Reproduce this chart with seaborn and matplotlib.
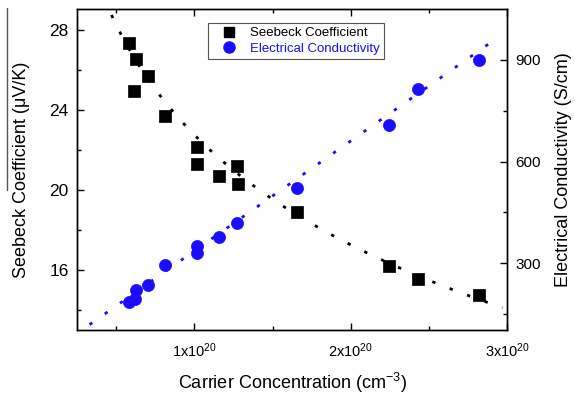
import numpy as np
import pandas as pd
import matplotlib
matplotlib.use("Agg")
import matplotlib.pyplot as plt
from matplotlib.lines import Line2D
from matplotlib.ticker import MultipleLocator, FixedLocator
import seaborn as sns

# Measured samples: carrier concentration (units of 1e20 cm^-3)
carrier_seebeck = [0.579, 0.628, 0.701, 0.615, 0.814, 1.017, 1.017, 1.156, 1.274, 1.278, 1.654, 2.244, 2.432, 2.822]
seebeck = [27.33, 26.53, 25.70, 24.95, 23.70, 22.13, 21.30, 20.72, 21.20, 20.32, 18.90, 16.20, 15.57, 14.75]

carrier_sigma = [0.579, 0.622, 0.628, 0.701, 0.814, 1.017, 1.017, 1.156, 1.274, 1.654, 2.244, 2.432, 2.822]
conductivity = [187, 194, 222, 235, 294, 351, 329, 376, 418, 522, 708, 814, 900]

# Fitted trend parameters: S = a + b*ln(n), sigma = c + m*n
seebeck_fit = [22.76, -7.94]
sigma_fit = [11.7, 324.6]

x_ticks = [1, 2, 3]
x_tick_labels = [r"1x10$^{20}$", r"2x10$^{20}$", r"3x10$^{20}$"]

sns.set_theme(style="white")
plt.rcParams["font.family"] = ["Liberation Sans", "DejaVu Sans"]
plt.rcParams["mathtext.fontset"] = "custom"
plt.rcParams["mathtext.rm"] = "Liberation Sans"
plt.rcParams["mathtext.it"] = "Liberation Sans:italic"
for key in ("text.color", "axes.labelcolor", "xtick.color", "ytick.color"):
    plt.rcParams[key] = "black"

df_s = pd.DataFrame({"n": carrier_seebeck, "S": seebeck})
df_c = pd.DataFrame({"n": carrier_sigma, "sigma": conductivity})

fig = plt.figure(figsize=(5.75, 3.95), dpi=100)
ax = fig.add_axes([0.134, 0.1646, 0.748, 0.8124])
ax2 = ax.twinx()

blue = "#1a0dff"
dot_style = (0, (1.2, 5.5))

n_fit_s = np.linspace(0.47, 2.97, 200)
ax.plot(n_fit_s, seebeck_fit[0] + seebeck_fit[1] * np.log(n_fit_s),
        color="black", lw=2.0, ls=dot_style, zorder=2)

n_fit_c = np.linspace(0.33, 2.95, 200)
ax2.plot(n_fit_c, sigma_fit[0] + sigma_fit[1] * n_fit_c,
         color=blue, lw=2.0, ls=dot_style, zorder=2)

sns.scatterplot(data=df_s, x="n", y="S", ax=ax, marker="s", s=66, color="black",
                edgecolor="black", linewidth=0.5, zorder=3, legend=False)
sns.scatterplot(data=df_c, x="n", y="sigma", ax=ax2, marker="o", s=76, color=blue,
                edgecolor=blue, linewidth=0.5, zorder=3, legend=False)

ax.set_xlim(0.25, 3.0)
ax.set_ylim(13.0, 29.05)
ax2.set_ylim(103, 1050)

ax.xaxis.set_major_locator(FixedLocator(x_ticks))
ax.set_xticklabels(x_tick_labels)
ax.xaxis.set_minor_locator(MultipleLocator(0.5))
ax.yaxis.set_major_locator(MultipleLocator(4))
ax.yaxis.set_minor_locator(MultipleLocator(2))
ax2.yaxis.set_major_locator(FixedLocator([300, 600, 900]))
ax2.yaxis.set_minor_locator(FixedLocator([150, 450, 750]))

for a_ in (ax, ax2):
    for sp in a_.spines.values():
        sp.set_color("black")
        sp.set_linewidth(1.0)

ax.tick_params(axis="x", which="both", direction="in", top=True, bottom=True, labelsize=10.5, pad=8)
ax.tick_params(axis="x", which="major", length=5, width=1)
ax.tick_params(axis="x", which="minor", length=3, width=1)
ax.tick_params(axis="y", which="both", direction="in", left=True, right=False, labelsize=12.5, pad=6)
ax.tick_params(axis="y", which="major", length=5, width=1)
ax.tick_params(axis="y", which="minor", length=3, width=1)
ax2.tick_params(axis="y", which="both", direction="in", right=True, labelsize=11, pad=6)
ax2.tick_params(axis="y", which="major", length=5, width=1)
ax2.tick_params(axis="y", which="minor", length=3, width=1)

ax.set_xlabel(r"Carrier Concentration (cm$^{-3}$)", fontsize=13, labelpad=8)
ax.set_ylabel("Seebeck Coefficient (μV/K)", fontsize=13, labelpad=14)
ax2.set_ylabel("Electrical Conductivity (S/cm)", fontsize=13, labelpad=10)

handles = [
    Line2D([], [], marker="s", ls="none", color="black", markersize=7.5),
    Line2D([], [], marker="o", ls="none", color=blue, markersize=8),
]
leg = ax.legend(handles, ["Seebeck Coefficient", "Electrical Conductivity"],
                loc="upper left", bbox_to_anchor=(0.305, 0.956), borderaxespad=0,
                fontsize=9.5, frameon=True, fancybox=False, edgecolor="#555555",
                framealpha=1, borderpad=0.3, handletextpad=0.3, labelspacing=0.25,
                handlelength=2.6)
leg.get_frame().set_linewidth(0.8)
leg.get_texts()[1].set_color(blue)

fig.add_artist(Line2D([0.0125, 0.0125], [1 - 8 / 395, 1 - 190 / 395],
                      transform=fig.transFigure, color="#555555", lw=1.0))

fig.savefig("out.png", dpi=100)
